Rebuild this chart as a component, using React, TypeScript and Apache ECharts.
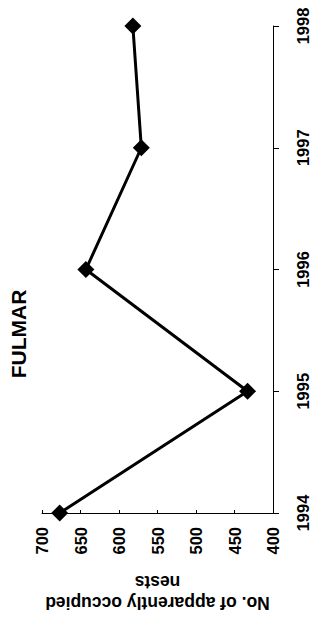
import React, { useEffect, useRef } from "react";
import * as echarts from "echarts";

const years = ["1994", "1995", "1996", "1997", "1998"];
const nests = [677, 433, 643, 571, 582];
const valueMin = 400;
const valueMax = 700;
const valueStep = 50;
const chartTitle = "FULMAR";
const valueAxisName = "No. of apparently occupied\nnests";

const FONT = "'Liberation Sans', Arial, sans-serif";

export default function App() {
  const ref = useRef<HTMLDivElement>(null);
  useEffect(() => {
    if (!ref.current) return;
    const chart = echarts.init(ref.current, undefined, { renderer: "svg" });
    chart.setOption({
      animation: false,
      backgroundColor: "#ffffff",
      grid: { left: 42, right: 38, top: 26, bottom: 110, containLabel: false },
      xAxis: {
        type: "value",
        min: valueMin,
        max: valueMax,
        interval: valueStep,
        inverse: true,
        position: "bottom",
        axisLine: { show: true, lineStyle: { color: "#000", width: 1 } },
        axisTick: { show: true, inside: true, length: 3, lineStyle: { color: "#000" } },
        splitLine: { show: false },
        axisLabel: {
          rotate: 90,
          margin: 14,
          fontSize: 16.5,
          fontWeight: "bold",
          fontFamily: FONT,
          color: "#000",
        },
        name: valueAxisName,
        nameLocation: "middle",
        nameRotate: 180,
        nameGap: 58,
        nameTextStyle: {
          fontSize: 17.5,
          fontWeight: "bold",
          fontFamily: FONT,
          color: "#000",
          lineHeight: 21,
        },
      },
      yAxis: {
        type: "category",
        data: years,
        boundaryGap: false,
        position: "right",
        axisLine: { show: true, lineStyle: { color: "#000", width: 1 } },
        axisTick: { show: true, inside: false, length: 6, lineStyle: { color: "#000" } },
        splitLine: { show: false },
        axisLabel: {
          rotate: 90,
          margin: 21,
          fontSize: 16.5,
          fontWeight: "bold",
          fontFamily: FONT,
          color: "#000",
        },
      },
      graphic: [
        {
          type: "text",
          x: 18,
          y: 334,
          rotation: Math.PI / 2,
          style: {
            text: chartTitle,
            fontSize: 21,
            fontWeight: "bold",
            fontFamily: FONT,
            fill: "#000",
            align: "center",
            verticalAlign: "middle",
          },
        },
      ],
      series: [
        {
          type: "line",
          data: nests,
          symbol: "diamond",
          symbolSize: 17,
          lineStyle: { color: "#000", width: 3 },
          itemStyle: { color: "#000" },
        },
      ],
    });
    return () => chart.dispose();
  }, []);
  return (
    <div
      ref={ref}
      style={{ position: "fixed", left: 0, top: 0, width: 311, height: 623, background: "#fff" }}
    />
  );
}
